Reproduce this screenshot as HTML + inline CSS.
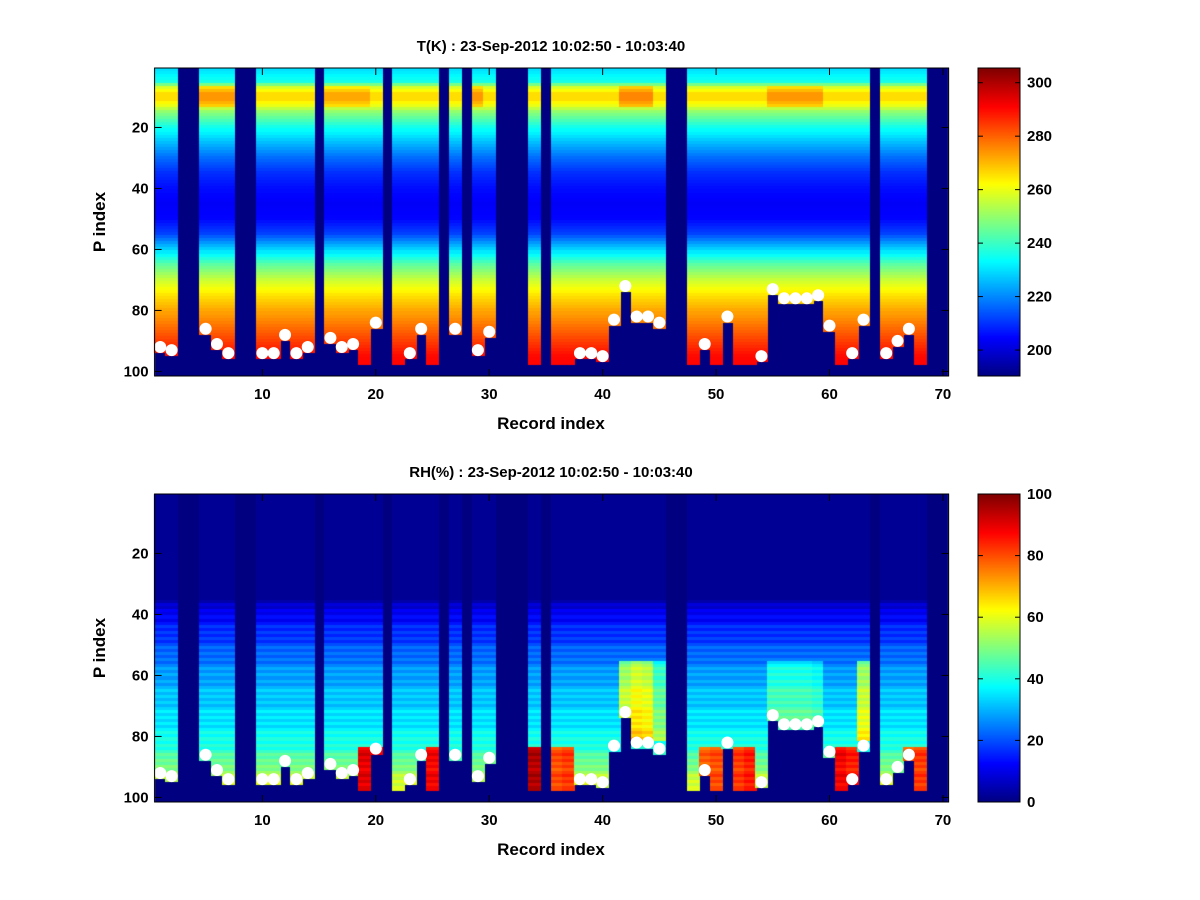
<!DOCTYPE html>
<html><head><meta charset="utf-8">
<style>
html,body{margin:0;padding:0;background:#fff;}
#wrap{position:relative;width:1200px;height:900px;}
canvas,svg{position:absolute;left:0;top:0;}
text{font-family:"Liberation Sans",sans-serif;font-weight:bold;fill:#000;}
</style></head>
<body>
<div id="wrap">
<canvas id="cv" width="1200" height="900"></canvas>
<svg id="sv" width="1200" height="900"></svg>
</div>
<script>
// ---- data ----
const missingCols = [3,4,8,9,15,21,26,28,31,32,33,35,46,47,64,69,70];
const surfCols = [1,2,5,6,7,10,11,12,13,14,16,17,18,20,23,24,27,29,30,38,39,40,41,42,43,44,45,49,51,54,55,56,57,58,59,60,62,63,65,66,67];
const surfIdx  = [92,93,86,91,94,94,94,88,94,92,89,92,91,84,94,86,86,93,87,94,94,95,83,72,82,82,84,91,82,95,73,76,76,76,75,85,94,83,94,90,86];
const profP = [1,5,7,9,11,13,15,20,25,30,35,40,45,50,55,60,65,70,75,80,85,90,95,101];
const profT = [230,236,258,266,266,260,250,236,226,217,210,206,204,205,212,228,244,256,265,272,278,284,290,292];
const warmTopCols = [5,6,7,16,17,18,19,29,42,43,44,55,56,57,58,59];
const warmBoost   = [8,8,8,6,6,6,6,8,10,10,10,8,8,8,8,8];
const profRHp = [1,35,37,40,45,50,55,60,65,70,75,80,85,90,95,101];
const profRH  = [2,2,6,12,16,20,24,28,31,33,35,38,43,50,58,60];
const wetCols = [42,43,44,45,55,56,57,58,59,63];
const wetBoost = [25,30,28,15,12,12,12,12,10,25];
const dampBottomCols = [19,20,25,34,36,37,49,50,52,53,61,62,67,68];
const dampBottomVal  = [90,88,88,95,80,82,78,80,82,85,88,85,80,82];

// ---- geometry ----
const X0=154.6, X1=948.6, XMIN=0.5, XMAX=70.5;
const panels=[{y0:68,y1:376,vmin:190.3,vmax:305.5,title:"T(K) : 23-Sep-2012 10:02:50 - 10:03:40",cb:[200,220,240,260,280,300],kind:"T"},
              {y0:494,y1:802,vmin:0,vmax:100,title:"RH(%) : 23-Sep-2012 10:02:50 - 10:03:40",cb:[0,20,40,60,80,100],kind:"RH"}];
const YMIN=0.5,YMAX=101.5;
const xs=v=>X0+(v-XMIN)/(XMAX-XMIN)*(X1-X0);
function jet(t){t=Math.max(0,Math.min(1,t));const c=x=>Math.round(255*Math.max(0,Math.min(1,1.5-Math.abs(x))));return `rgb(${c(4*t-3)},${c(4*t-2)},${c(4*t-1)})`;}
function interp(ps,vs,p){for(let i=0;i<ps.length-1;i++){if(p<=ps[i+1]){const f=(p-ps[i])/(ps[i+1]-ps[i]);return vs[i]+f*(vs[i+1]-vs[i]);}}return vs[vs.length-1];}
function bottomOf(c){const k=surfCols.indexOf(c);return k>=0?surfIdx[k]+1:97;}
function val(kind,c,p){
  if(kind==="T"){let v=interp(profP,profT,p);const k=warmTopCols.indexOf(c);if(k>=0&&p>=7&&p<=13)v+=warmBoost[k];return v;}
  let v=interp(profRHp,profRH,p);
  const k=wetCols.indexOf(c);if(k>=0&&p>55&&p<82)v+=wetBoost[k];
  const d=dampBottomCols.indexOf(c);if(d>=0&&p>=84)v=dampBottomVal[d];
  if(p>36)v+=((c*7+p*3)%7)-3;return v;
}
const ctx=document.getElementById('cv').getContext('2d');
const sv=document.getElementById('sv');const NS="http://www.w3.org/2000/svg";
function el(t,a,txt){const e=document.createElementNS(NS,t);for(const k in a)e.setAttribute(k,a[k]);if(txt!==undefined)e.textContent=txt;sv.appendChild(e);return e;}
panels.forEach((P,pi)=>{
  const ys=v=>P.y0+(v-YMIN)/(YMAX-YMIN)*(P.y1-P.y0);
  ctx.fillStyle=jet(0);ctx.fillRect(X0,P.y0,X1-X0,P.y1-P.y0);
  for(let c=1;c<=70;c++){
    if(missingCols.includes(c))continue;
    const b=bottomOf(c);
    for(let p=1;p<=101;p++){
      if(p>b)continue;
      const v=val(P.kind,c,p);
      ctx.fillStyle=jet((v-P.vmin)/(P.vmax-P.vmin));
      ctx.fillRect(Math.floor(xs(c-0.5)),Math.floor(ys(p-0.5)),Math.ceil(xs(c+0.5)-xs(c-0.5))+1,Math.ceil(ys(p+0.5)-ys(p-0.5))+1);
    }
  }
  const cx0=978,cx1=1020;
  for(let y=P.y0;y<P.y1;y++){ctx.fillStyle=jet(1-(y-P.y0)/(P.y1-P.y0));ctx.fillRect(cx0,y,cx1-cx0,1);}
  surfCols.forEach((c,i)=>{const d=el('circle',{cx:xs(c),cy:ys(surfIdx[i]),r:6,fill:'#fff'});
    
    });
  const box=el('rect',{x:X0,y:P.y0,width:X1-X0,height:P.y1-P.y0,fill:'none',stroke:'#000','stroke-width':1});
  
  for(let v=10;v<=70;v+=10){const x=xs(v);
    el('line',{x1:x,y1:P.y1,x2:x,y2:P.y1-7,stroke:'#000'});el('line',{x1:x,y1:P.y0,x2:x,y2:P.y0+7,stroke:'#000'});
    const t=el('text',{x:x,y:P.y1+23,'text-anchor':'middle','font-size':15},String(v));
    }
  for(let v=20;v<=100;v+=20){const y=ys(v);
    el('line',{x1:X0,y1:y,x2:X0+7,y2:y,stroke:'#000'});el('line',{x1:X1,y1:y,x2:X1-7,y2:y,stroke:'#000'});
    const t=el('text',{x:X0-6,y:y+5,'text-anchor':'end','font-size':15},String(v));
    }
  const ti=el('text',{x:551,y:P.y0-17,'text-anchor':'middle','font-size':15},P.title);
  
  const xl=el('text',{x:551,y:P.y1+53,'text-anchor':'middle','font-size':17},'Record index');
  
  const yc=(P.y0+P.y1)/2;
  const yl=el('text',{x:105,y:yc,'text-anchor':'middle','font-size':17,transform:`rotate(-90 105 ${yc})`},'P index');
  
  const cb=el('rect',{x:cx0,y:P.y0,width:cx1-cx0,height:P.y1-P.y0,fill:'none',stroke:'#000'});
  
  P.cb.forEach(v=>{const y=P.y1-(v-P.vmin)/(P.vmax-P.vmin)*(P.y1-P.y0);
    el('line',{x1:cx0,y1:y,x2:cx0+5,y2:y,stroke:'#000'});el('line',{x1:cx1,y1:y,x2:cx1-5,y2:y,stroke:'#000'});
    const t=el('text',{x:cx1+7,y:y+5,'font-size':15},String(v));
    });
});
</script>
</body></html>
